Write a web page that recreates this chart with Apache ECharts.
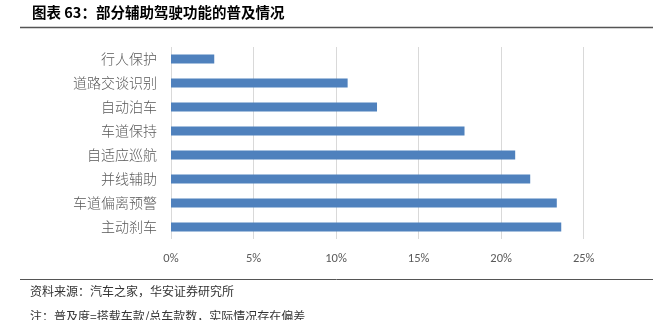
<!DOCTYPE html>
<html>
<head>
<meta charset="utf-8">
<script src="https://cdn.jsdelivr.net/npm/echarts@6/dist/echarts.min.js"></script>
<style>
html,body{margin:0;padding:0;background:#fff;}
#chart{width:666px;height:320px;}
</style>
</head>
<body>
<div id="chart"></div>
<script>
const categories = ['主动刹车','车道偏离预警','并线辅助','自适应巡航','车道保持','自动泊车','道路交谈识别','行人保护'];
const values = [0.2364, 0.2337, 0.2176, 0.2085, 0.1778, 0.1248, 0.1070, 0.0262];
const xTicks = [0, 0.05, 0.10, 0.15, 0.20, 0.25];
const titleText = '图表 63：部分辅助驾驶功能的普及情况';
const sourceText = '资料来源：汽车之家，华安证券研究所';
const noteText = '注：普及度=搭载车款/总车款数，实际情况存在偏差';

const chart = echarts.init(document.getElementById('chart'), null, {renderer:'canvas'});
const cjk = '"Noto Sans CJK SC", "Noto Sans", sans-serif';
chart.setOption({
  animation: false,
  backgroundColor: '#fff',
  grid: {left: 171, right: 82.3, top: 47, bottom: 81, containLabel: false},
  xAxis: {
    type: 'value', min: xTicks[0], max: xTicks[xTicks.length-1], interval: 0.05,
    axisLine: {show: false}, axisTick: {show: false},
    splitLine: {show: true, lineStyle: {color: '#d9d9d9', width: 1}},
    axisLabel: {color: '#595959', fontSize: 12.5, fontFamily: 'Calibri, Carlito, "Liberation Sans", sans-serif', margin: 13,
      formatter: v => Math.round(v*100) + '%'}
  },
  yAxis: {
    type: 'category', data: categories,
    axisLine: {show: false}, axisTick: {show: false},
    axisLabel: {color: '#595959', fontSize: 14, fontWeight: 300, fontFamily: cjk, margin: 14}
  },
  series: [{
    type: 'bar', data: values, barWidth: 9,
    itemStyle: {color: '#4f81bd'}
  }],
  graphic: [
    {type:'text', left: 32, top: 5, style:{text: titleText, font: 'bold 14.5px "Noto Sans CJK SC", sans-serif', fill:'#000'}},
    {type:'line', shape:{x1:20, y1:27.5, x2:653, y2:27.5}, style:{stroke:'#555', lineWidth:1.5}},
    {type:'line', shape:{x1:20, y1:279.5, x2:653, y2:279.5}, style:{stroke:'#555', lineWidth:1}},
    {type:'text', left: 30, top: 285, style:{text: sourceText, font: '12px "Noto Sans CJK SC", sans-serif', fill:'#333'}},
    {type:'text', left: 30, top: 310, style:{text: noteText, font: '12px "Noto Sans CJK SC", sans-serif', fill:'#333'}}
  ]
});
</script>
</body>
</html>
